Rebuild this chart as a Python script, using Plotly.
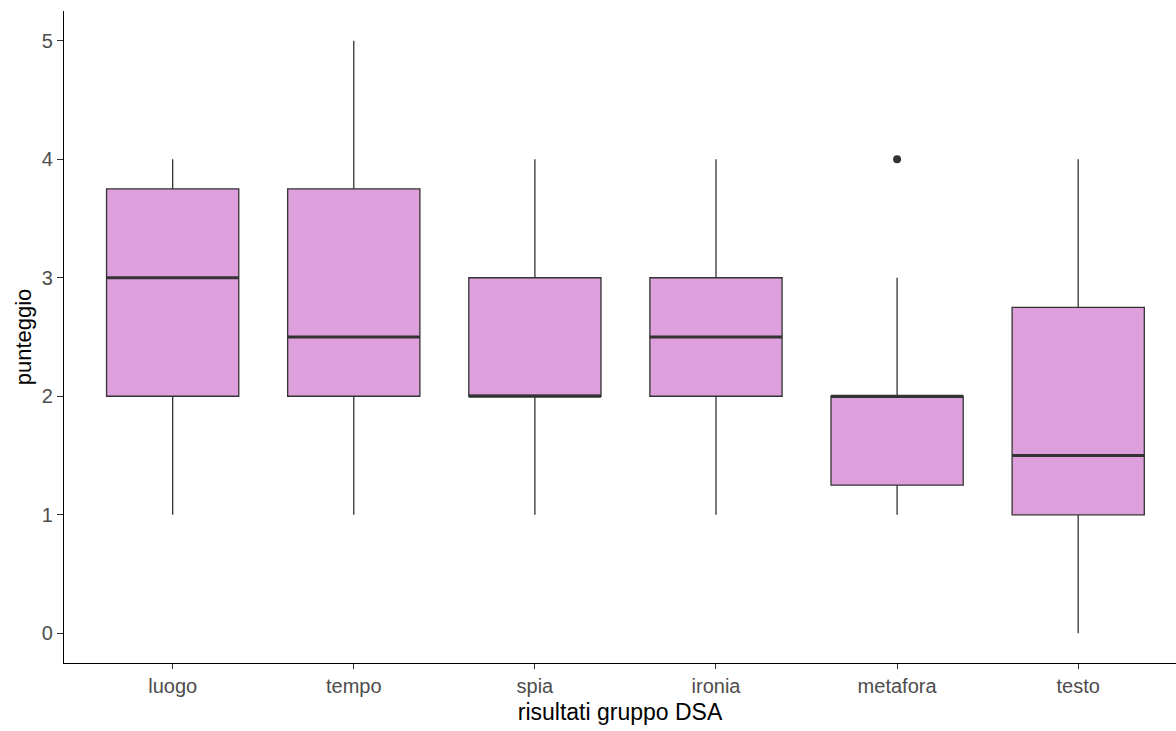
import plotly.graph_objects as go

categories = ["luogo", "tempo", "spia", "ironia", "metafora", "testo"]
q1 = [2.0, 2.0, 2.0, 2.0, 1.25, 1.0]
median = [3.0, 2.5, 2.0, 2.5, 2.0, 1.5]
q3 = [3.75, 3.75, 3.0, 3.0, 2.0, 2.75]
lower = [1.0, 1.0, 1.0, 1.0, 1.0, 0.0]
upper = [4.0, 5.0, 4.0, 4.0, 3.0, 4.0]
outlier_cat = ["metafora"]
outlier_val = [4.0]
y_ticks = [0, 1, 2, 3, 4, 5]

FILL = "#DDA0DD"
LINE = "#333333"
BOXW = 0.73

pos = list(range(len(categories)))

fig = go.Figure()
fig.add_trace(go.Box(
    x=pos, q1=q1, median=median, q3=q3,
    lowerfence=lower, upperfence=upper,
    width=BOXW, whiskerwidth=0,
    fillcolor=FILL, line=dict(color=LINE, width=1.3),
    boxpoints=False, showlegend=False, hoverinfo="skip",
))

# thicker median lines (ggplot style)
mx, my = [], []
for p, m in zip(pos, median):
    mx += [p - BOXW / 2, p + BOXW / 2, None]
    my += [m, m, None]
fig.add_trace(go.Scatter(x=mx, y=my, mode="lines",
                         line=dict(color=LINE, width=3),
                         showlegend=False, hoverinfo="skip"))

fig.add_trace(go.Scatter(
    x=[categories.index(c) for c in outlier_cat], y=outlier_val,
    mode="markers", marker=dict(color=LINE, size=8),
    showlegend=False, hoverinfo="skip"))

fig.update_layout(
    width=1176, height=731,
    margin=dict(l=64, r=0, t=11, b=68),
    paper_bgcolor="white", plot_bgcolor="white",
    font=dict(family="Liberation Sans, Arial, sans-serif"),
    xaxis=dict(
        range=[-0.6, 5.54], tickvals=pos, ticktext=categories,
        showline=True, linecolor="black", linewidth=1.3,
        ticks="outside", ticklen=5, tickcolor="#333333", tickwidth=1.2,
        tickfont=dict(size=20, color="#4D4D4D"),
        showgrid=False, zeroline=False,
        title=dict(text="risultati gruppo DSA", font=dict(size=23, color="black"), standoff=7),
    ),
    yaxis=dict(
        range=[-0.25, 5.25], tickvals=y_ticks,
        showline=True, linecolor="black", linewidth=1.3,
        ticks="outside", ticklen=6, tickcolor="#333333", tickwidth=1.2,
        tickfont=dict(size=20, color="#4D4D4D"),
        showgrid=False, zeroline=False,
        title=dict(text="punteggio", font=dict(size=22, color="black"), standoff=4),
    ),
)

fig.write_html("out.html")
